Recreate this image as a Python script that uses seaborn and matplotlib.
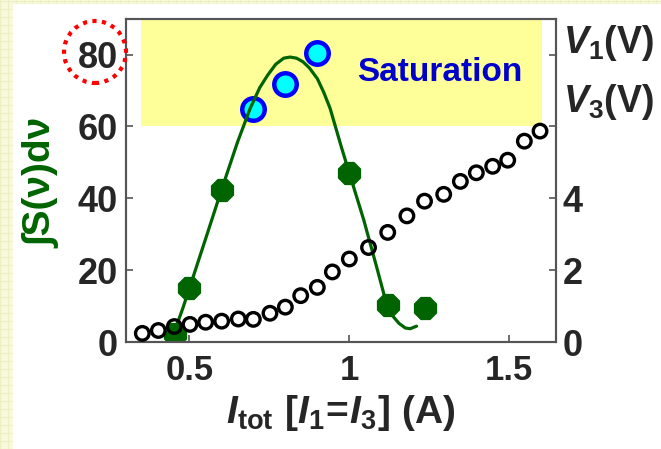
import matplotlib
matplotlib.use("Agg")
import matplotlib.pyplot as plt
import seaborn as sns
from matplotlib.patches import Rectangle, Ellipse
from matplotlib.lines import Line2D

# Integrated signal vs. total current (filled points)
current_meas = [0.456, 0.500, 0.602, 1.000, 1.120, 1.237]
signal_meas = [2.2, 14.9, 42.2, 47.0, 10.2, 9.4]

# Points inside the saturation band
current_sat = [0.698, 0.800, 0.900]
signal_sat = [64.9, 71.7, 80.5]

# Guide-to-the-eye trend through the signal
current_fit = [0.455, 0.48, 0.50, 0.55, 0.60, 0.65, 0.69, 0.72, 0.745, 0.77,
               0.795, 0.815, 0.835, 0.855, 0.875, 0.90, 0.92, 0.94, 0.975, 1.00,
               1.045, 1.085, 1.115, 1.135, 1.155, 1.175, 1.19, 1.21]
signal_fit = [3.3, 9.5, 14.9, 28.5, 42.2, 55.5, 65.0, 70.8, 74.3, 77.3,
              79.0, 79.3, 79.0, 78.0, 76.3, 73.3, 69.5, 65.0, 54.3, 47.0,
              34.0, 21.0, 11.0, 7.3, 5.2, 3.9, 3.7, 4.4]

# Electrode voltage V1 = V3 (open circles, right axis)
current_v = [0.353, 0.403, 0.453, 0.502, 0.551, 0.601, 0.653, 0.700, 0.752, 0.800,
             0.848, 0.900, 0.947, 1.000, 1.060, 1.120, 1.180, 1.235, 1.295, 1.347,
             1.397, 1.448, 1.495, 1.547, 1.596]
voltage_v = [0.24, 0.32, 0.43, 0.49, 0.55, 0.58, 0.64, 0.63, 0.80, 0.97,
             1.29, 1.52, 1.95, 2.31, 2.63, 3.05, 3.51, 3.92, 4.11, 4.47,
             4.71, 4.89, 5.06, 5.59, 5.87]

x_ticks = [0.5, 1.0, 1.5]
x_tick_labels = ["0.5", "1", "1.5"]
left_ticks = [0, 20, 40, 60, 80]
left_tick_labels = ["0", "20", "40", "60", "80"]
right_ticks = [0, 2, 4, 6, 8]
right_tick_labels = ["0", "2", "4", "", ""]

sns.set_theme(style="white")
plt.rcParams["font.family"] = ["Liberation Sans", "DejaVu Sans"]
plt.rcParams["font.weight"] = "bold"
plt.rcParams["mathtext.fontset"] = "custom"
plt.rcParams["mathtext.rm"] = "Liberation Sans:bold"
plt.rcParams["mathtext.it"] = "Liberation Sans:italic:bold"
plt.rcParams["mathtext.bf"] = "Liberation Sans:bold"
plt.rcParams["mathtext.bfit"] = "Liberation Sans:bold:italic"

W, H = 661, 449
fig = plt.figure(figsize=(W / 100, H / 100), dpi=100)
fig.patch.set_facecolor("#f8f8dc")

# faint grid texture on the page background
for px in range(0, W, 8):
    fig.add_artist(Line2D([px / W, px / W], [0, 1], transform=fig.transFigure,
                          color="#ecefc4", lw=0.8, zorder=-10))
for py in range(0, H, 8):
    fig.add_artist(Line2D([0, 1], [py / H, py / H], transform=fig.transFigure,
                          color="#ecefc4", lw=0.8, zorder=-10))
fig.add_artist(Rectangle((13 / W, 0), 1, (H - 4) / H, transform=fig.transFigure,
                         facecolor="white", edgecolor="none", zorder=-5))

ax = fig.add_axes([126 / W, (H - 342) / H, (555.7 - 126) / W, (342 - 19) / H])
ax.set_facecolor("none")
ax.set_xlim(0.302, 1.645)
ax.set_ylim(0, 89.9)

# saturation band
ax.add_patch(Rectangle((0.348, 60), 1.602 - 0.348, 89.9 - 60,
                       facecolor="#ffff99", edgecolor="none", zorder=0))

sns.scatterplot(x=current_sat, y=signal_sat, ax=ax, s=262, color="#00ffff",
                edgecolor="#0000ff", linewidth=3.2, zorder=2)
sns.lineplot(x=current_fit, y=signal_fit, ax=ax, color="#006400", lw=2.3,
             sort=False, estimator=None, zorder=3)
sns.scatterplot(x=current_meas, y=signal_meas, ax=ax, marker="8", s=290,
                color="#006400", edgecolor="#006400", linewidth=1, zorder=4)

ax2 = ax.twinx()
ax2.set_ylim(0, 8.99)
sns.scatterplot(x=current_v, y=voltage_v, ax=ax2, s=95, color="black",
                linewidth=2.4, zorder=5)
ax2.collections[-1].set_facecolor("none")
ax2.collections[-1].set_edgecolor("black")

ax.text(1.284, 75.1, "Saturation", color="#0000cc", fontsize=24,
        fontweight="bold", ha="center", va="center", zorder=6)

ax.set_xticks(x_ticks)
ax.set_xticklabels(x_tick_labels)
ax.set_yticks(left_ticks)
ax.set_yticklabels(left_tick_labels)
ax2.set_yticks(right_ticks)
ax2.set_yticklabels(right_tick_labels)

for a in (ax, ax2):
    for sp in a.spines.values():
        sp.set_color("#555555")
        sp.set_linewidth(1.5)
        sp.set_visible(True)
ax.tick_params(axis="x", direction="in", length=5, width=1.2, color="#555555",
               labelsize=25, pad=9, bottom=True)
ax.tick_params(axis="y", direction="in", length=5, width=1.2, color="#555555",
               labelsize=26, pad=6, left=True)
ax2.tick_params(axis="y", direction="in", length=5, width=1.2, color="#555555",
                labelsize=26, pad=5, right=True)
ax2.set_ylabel("")

ax.set_xlabel(r"$\mathbfit{I}_{\mathbf{tot}}\ \mathbf{[}\mathbfit{I}_{\mathbf{1}}"
              r"\!\mathbf{=}\!\mathbfit{I}_{\mathbf{3}}\mathbf{]}\ \mathbf{(A)}$",
              fontsize=28, labelpad=4)
ax.set_ylabel("∫S(ν)dν", color="#006400", fontsize=28, fontweight="bold")
ax.yaxis.set_label_coords(-0.15, 0.49)

fig.text(563 / W, 1 - 53 / H, r"$V_1$(V)", fontsize=27, fontweight="bold",
         ha="left", va="baseline")
fig.text(563 / W, 1 - 112 / H, r"$V_3$(V)", fontsize=27, fontweight="bold",
         ha="left", va="baseline")

# dotted red ring around the top tick label
fig.add_artist(Ellipse((95 / W, 1 - 52 / H), 62 / W, 62 / H,
                       transform=fig.transFigure, fill=False, edgecolor="red",
                       lw=3, linestyle=(0, (1, 1.3)), zorder=10))

fig.savefig("out.png", dpi=100)
